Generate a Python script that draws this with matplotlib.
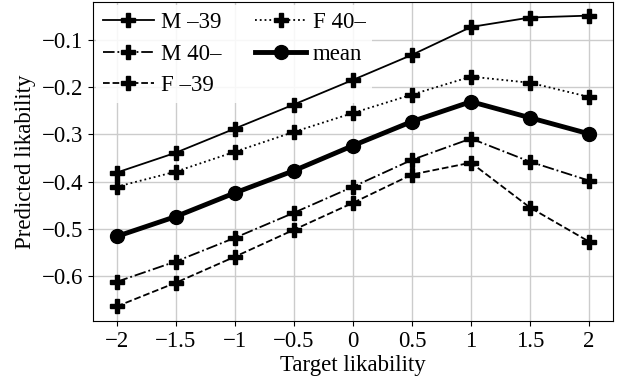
import matplotlib
matplotlib.use('Agg')
import matplotlib.pyplot as plt

# target likability levels
x = [-2, -1.5, -1, -0.5, 0, 0.5, 1, 1.5, 2]

m_young = [-0.381, -0.339, -0.288, -0.237, -0.185, -0.132, -0.073, -0.053, -0.049]
m_old = [-0.612, -0.569, -0.519, -0.466, -0.411, -0.354, -0.309, -0.358, -0.398]
f_young = [-0.664, -0.614, -0.559, -0.502, -0.445, -0.385, -0.360, -0.455, -0.527]
f_old = [-0.411, -0.379, -0.337, -0.295, -0.255, -0.216, -0.178, -0.191, -0.221]
mean = [-0.516, -0.474, -0.424, -0.377, -0.324, -0.273, -0.231, -0.265, -0.299]

labels = ['M \u201339', 'M 40\u2013', 'F \u201339', 'F 40\u2013', 'mean']

plt.rcParams['font.family'] = ['Liberation Serif', 'DejaVu Serif']
plt.rcParams['font.size'] = 16.5

fig, ax = plt.subplots(figsize=(6.24, 3.8), dpi=100)
fig.subplots_adjust(left=0.149, right=0.982, top=0.995, bottom=0.155)

ax.plot(x, m_young, '-', color='black', lw=1.3, marker='P', ms=10, label=labels[0])
ax.plot(x, m_old, '-.', color='black', lw=1.3, marker='P', ms=10, label=labels[1])
ax.plot(x, f_young, '--', color='black', lw=1.3, marker='P', ms=10, label=labels[2])
ax.plot(x, f_old, ':', color='black', lw=1.3, marker='P', ms=10, label=labels[3])
ax.plot(x, mean, '-', color='black', lw=3.5, marker='o', ms=10, label=labels[4])

ax.set_xlim(-2.2, 2.2)
ax.set_ylim(-0.695, -0.02)
ax.set_xticks(x)
ax.set_xticklabels(['\u22122', '\u22121.5', '\u22121', '\u22120.5', '0', '0.5', '1', '1.5', '2'])
ax.set_yticks([-0.6, -0.5, -0.4, -0.3, -0.2, -0.1])
ax.set_yticklabels(['\u22120.6', '\u22120.5', '\u22120.4', '\u22120.3', '\u22120.2', '\u22120.1'])
ax.grid(True, color='#cccccc', lw=1.0)
ax.set_axisbelow(True)
ax.set_xlabel('Target likability', labelpad=2)
ax.set_ylabel('Predicted likability')

leg = ax.legend(loc='upper left', ncol=2, frameon=True, edgecolor='none', framealpha=0.85,
                handlelength=2.2, columnspacing=1.5, handletextpad=0.3, borderaxespad=0.15,
                labelspacing=0.45, borderpad=0.3)
leg.set_zorder(1.5)

plt.savefig('out.png', dpi=100)
